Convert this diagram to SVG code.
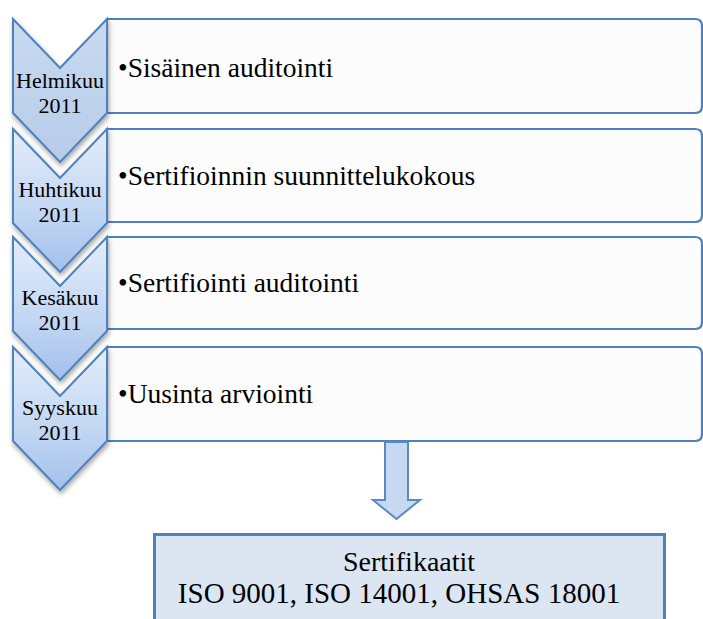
<svg xmlns="http://www.w3.org/2000/svg" width="703" height="619" viewBox="0 0 703 619" font-family="'Liberation Serif', 'Times New Roman', serif">
  <style>
    .row { fill: #FCFCFC; stroke: #4F81BD; stroke-width: 2.2; }
    .chev { stroke: #4F81BD; stroke-width: 2; stroke-linejoin: miter; filter: url(#shadow); }
    text { font-family: 'Liberation Serif', 'Times New Roman', serif; fill: #000; }
    .date { font-size: 22px; text-anchor: middle; }
    .item { font-size: 27.5px; }
    .cert { font-size: 28px; text-anchor: middle; }
    .cert-list { font-size: 29px; text-anchor: middle; }
  </style>
  <defs>
    <linearGradient id="chevFirst" x1="0" y1="0" x2="0" y2="1">
      <stop offset="0" stop-color="#C9DAEF"/>
      <stop offset="1" stop-color="#B6CCEA"/>
    </linearGradient>
    <linearGradient id="chevGrad" x1="0" y1="0" x2="0" y2="1">
      <stop offset="0" stop-color="#E3EDFA"/>
      <stop offset="0.55" stop-color="#C4D8F3"/>
      <stop offset="1" stop-color="#A3C0EC"/>
    </linearGradient>
    <filter id="shadow" x="-20%" y="-10%" width="150%" height="130%">
      <feDropShadow dx="1" dy="3" stdDeviation="2.5" flood-color="#000" flood-opacity="0.35"/>
    </filter>
    <path id="chevShape" d="M13,0 L60,49 L107,0 L107,94 L60,143 L13,94 Z"/>
  </defs>

  <rect width="703" height="619" fill="#FFFFFF"/>

  <!-- timeline rows: rounded boxes with the item text -->
  <g id="row-helmikuu">
    <path class="row" d="M107,19 H695 Q702,19 702,26 V106 Q702,113 695,113 H107 Z"/>
    <text class="item" x="118" y="77">•Sisäinen auditointi</text>
  </g>
  <g id="row-huhtikuu">
    <path class="row" d="M107,129 H695 Q702,129 702,136 V215 Q702,222 695,222 H107 Z"/>
    <text class="item" x="118" y="185">•Sertifioinnin suunnittelukokous</text>
  </g>
  <g id="row-kesakuu">
    <path class="row" d="M107,237 H695 Q702,237 702,244 V322 Q702,329 695,329 H107 Z"/>
    <text class="item" x="118" y="292">•Sertifiointi auditointi</text>
  </g>
  <g id="row-syyskuu">
    <path class="row" d="M107,347 H695 Q702,347 702,354 V434 Q702,441 695,441 H107 Z"/>
    <text class="item" x="118" y="403">•Uusinta arviointi</text>
  </g>

  <!-- chevrons, drawn bottom-up so each point overlaps the next -->
  <g id="chevron-syyskuu">
    <use href="#chevShape" class="chev" fill="url(#chevGrad)" transform="translate(0,347)"/>
    <text class="date" x="60" y="415">Syyskuu</text>
    <text class="date" x="60" y="440">2011</text>
  </g>
  <g id="chevron-kesakuu">
    <use href="#chevShape" class="chev" fill="url(#chevGrad)" transform="translate(0,237)"/>
    <text class="date" x="60" y="305">Kesäkuu</text>
    <text class="date" x="60" y="330">2011</text>
  </g>
  <g id="chevron-huhtikuu">
    <use href="#chevShape" class="chev" fill="url(#chevGrad)" transform="translate(0,129)"/>
    <text class="date" x="60" y="197">Huhtikuu</text>
    <text class="date" x="60" y="222">2011</text>
  </g>
  <g id="chevron-helmikuu">
    <use href="#chevShape" class="chev" fill="url(#chevFirst)" transform="translate(0,19)"/>
    <text class="date" x="60" y="88">Helmikuu</text>
    <text class="date" x="60" y="113">2011</text>
  </g>

  <!-- connector: block arrow down to the result -->
  <g id="connectors">
    <path d="M385,442 H408 V500 H420 L396.5,519 L373,500 H385 Z" fill="#C6D9F1" stroke="#5B89C6" stroke-width="2" stroke-linejoin="miter"/>
  </g>

  <!-- result box -->
  <g id="certificates">
    <rect x="154.5" y="534.5" width="510" height="100" fill="#DCE6F2" stroke="#4F81BD" stroke-width="3"/>
    <text class="cert" x="409" y="571">Sertifikaatit</text>
    <text class="cert-list" x="399" y="603">ISO 9001, ISO 14001, OHSAS 18001</text>
  </g>
</svg>
